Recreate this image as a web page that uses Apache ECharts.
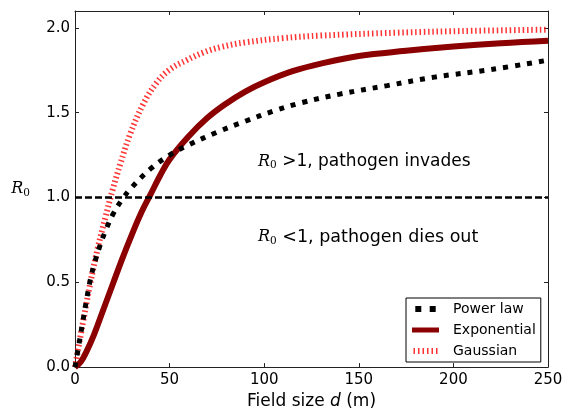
<!DOCTYPE html>
<html><head><meta charset="utf-8">
<script src="https://cdn.jsdelivr.net/npm/echarts@6/dist/echarts.min.js"></script>
<style>html,body{margin:0;padding:0;background:#fff}#c{width:571px;height:415px}</style>
</head><body><div id="c"></div>
<script>
const xTicks = [0, 50, 100, 150, 200, 250];
const yTicks = [0.0, 0.5, 1.0, 1.5, 2.0];
const powerD = [0, 2, 4, 6, 8, 10, 13, 16, 20, 25, 30, 40, 50, 60, 75, 90, 105, 120, 140, 165, 190, 220, 250];
const powerV = [0, 0.13, 0.26, 0.39, 0.51, 0.60, 0.71, 0.80, 0.90, 0.99, 1.06, 1.17, 1.25, 1.31, 1.385, 1.45, 1.51, 1.56, 1.61, 1.66, 1.71, 1.755, 1.81];
const expD = [0, 3, 6, 10, 15, 20, 25, 30, 35, 40, 45, 50, 60, 70, 80, 90, 100, 115, 130, 150, 175, 200, 225, 250];
const expV = [0, 0.03, 0.09, 0.19, 0.34, 0.49, 0.64, 0.78, 0.91, 1.02, 1.13, 1.225, 1.36, 1.47, 1.555, 1.625, 1.68, 1.745, 1.79, 1.835, 1.865, 1.89, 1.91, 1.925];
const gaussD = [0, 4, 8, 12, 16, 20, 24, 29, 36, 43, 50, 59, 68, 77, 90, 110, 130, 170, 210, 250];
const gaussV = [0, 0.25, 0.49, 0.70, 0.88, 1.05, 1.20, 1.37, 1.55, 1.675, 1.754, 1.81, 1.856, 1.887, 1.915, 1.94, 1.955, 1.972, 1.983, 1.99];
const threshold = 1.0;
const seriesNames = ['Power law', 'Exponential', 'Gaussian'];

const pair = (d, v) => d.map((x, i) => [x, v[i]]);
const F = 'DejaVu Sans';
const axisCol = '#222';

// legend icon shapes
let stripes = '';
for (let i = 0; i < 6; i++) stripes += 'M' + (i * 4.5) + ',0h1.5v6h-1.5z';
const iconPower = 'path://M0,0h5v5h-5zM12,0h5v5h-5z';
const iconExp = 'path://M0,0h27v5h-27z';
const iconGauss = 'path://' + stripes;

const rich = (extra) => Object.assign({
  r: { fontSize: 16, fontFamily: 'DejaVu Serif', fontStyle: 'italic', fill: '#000', color: '#000' },
  s: { fontSize: 10.5, fontFamily: 'DejaVu Serif', fill: '#000', color: '#000', padding: [8, 0, 0, 0] }
}, extra || {});

const chart = echarts.init(document.getElementById('c'));
chart.setOption({
  animation: false,
  textStyle: { fontFamily: F },
  grid: { left: 75, right: 23, top: 11, bottom: 45 },
  xAxis: [{
    type: 'value', min: xTicks[0], max: xTicks[xTicks.length - 1], interval: 50,
    position: 'bottom',
    axisLine: { show: true, onZero: false, lineStyle: { color: axisCol, width: 1 } },
    axisTick: { show: true, inside: true, length: 4, lineStyle: { color: axisCol } },
    axisLabel: { color: '#000', fontSize: 15, margin: 6, fontFamily: F },
    splitLine: { show: false },
    name: '{n|Field size }{i|d}{n| (m)}', nameLocation: 'middle', nameGap: 25,
    nameTextStyle: { rich: { n: { fontSize: 17, fontFamily: F, color: '#000' }, i: { fontSize: 17, fontFamily: F, fontStyle: 'italic', color: '#000' } } }
  }, {
    type: 'value', min: xTicks[0], max: xTicks[xTicks.length - 1], interval: 50,
    position: 'top',
    axisLine: { show: true, onZero: false, lineStyle: { color: axisCol, width: 1 } },
    axisTick: { show: true, inside: true, length: 4, lineStyle: { color: axisCol } },
    axisLabel: { show: false }, splitLine: { show: false }
  }],
  yAxis: [{
    type: 'value', min: 0, max: 2.1, interval: 0.5,
    axisLine: { show: true, onZero: false, lineStyle: { color: axisCol, width: 1 } },
    axisTick: { show: true, inside: true, length: 4, lineStyle: { color: axisCol } },
    axisLabel: { color: '#000', fontSize: 15, margin: 5, fontFamily: F, showMaxLabel: false,
      formatter: v => (yTicks.some(t => Math.abs(t - v) < 1e-6) ? v.toFixed(1) : '') },
    splitLine: { show: false },
    name: '{r|R}{s|0}', nameLocation: 'middle', nameGap: 45, nameRotate: 0,
    nameTextStyle: { rich: rich() }
  }, {
    type: 'value', min: 0, max: 2.1, interval: 0.5, position: 'right',
    axisLine: { show: true, onZero: false, lineStyle: { color: axisCol, width: 1 } },
    axisTick: { show: true, inside: true, length: 4, lineStyle: { color: axisCol } },
    axisLabel: { show: false }, splitLine: { show: false }
  }],
  legend: {
    orient: 'vertical', left: 406, top: 298,
    data: [
      { name: seriesNames[0], icon: iconPower },
      { name: seriesNames[1], icon: iconExp },
      { name: seriesNames[2], icon: iconGauss }
    ],
    itemWidth: 27, itemHeight: 6, itemGap: 5, symbolKeepAspect: true,
    itemStyle: { borderWidth: 0 },
    borderColor: '#000', borderWidth: 1, borderRadius: 0, padding: [3, 5, 3, 6],
    textStyle: { fontSize: 14, color: '#000', fontFamily: F, lineHeight: 16, padding: [0, 0, 0, 9] }
  },
  series: [{
    name: seriesNames[0], type: 'line', smooth: 0.4, symbol: 'none', z: 3,
    data: pair(powerD, powerV),
    lineStyle: { color: '#000', width: 5, type: [5, 7] },
    itemStyle: { color: '#000' },
    markLine: { silent: true, symbol: 'none', label: { show: false },
      lineStyle: { color: '#000', width: 2.5, type: [7, 3] },
      data: [{ yAxis: threshold }] }
  }, {
    name: seriesNames[1], type: 'line', smooth: 0.4, symbol: 'none', z: 2,
    data: pair(expD, expV),
    lineStyle: { color: '#8b0000', width: 6 },
    itemStyle: { color: '#8b0000' }
  }, {
    name: seriesNames[2], type: 'line', smooth: 0.4, symbol: 'none', z: 1,
    data: pair(gaussD, gaussV),
    lineStyle: { color: 'rgba(255,0,0,0.8)', width: 6, type: [1.5, 2.8] },
    itemStyle: { color: 'rgba(255,0,0,0.8)' }
  }],
  graphic: [{
    type: 'text', left: 258, top: 153,
    style: { text: '{r|R}{s|0}{t| >1, pathogen invades}', rich: rich({
      t: { fontSize: 17, fontFamily: F, fill: '#000' } }) }
  }, {
    type: 'text', left: 258, top: 228,
    style: { text: '{r|R}{s|0}{t| <1, pathogen dies out}', rich: rich({
      t: { fontSize: 17.5, fontFamily: F, fill: '#000' } }) }
  }]
});
</script>
</body></html>
